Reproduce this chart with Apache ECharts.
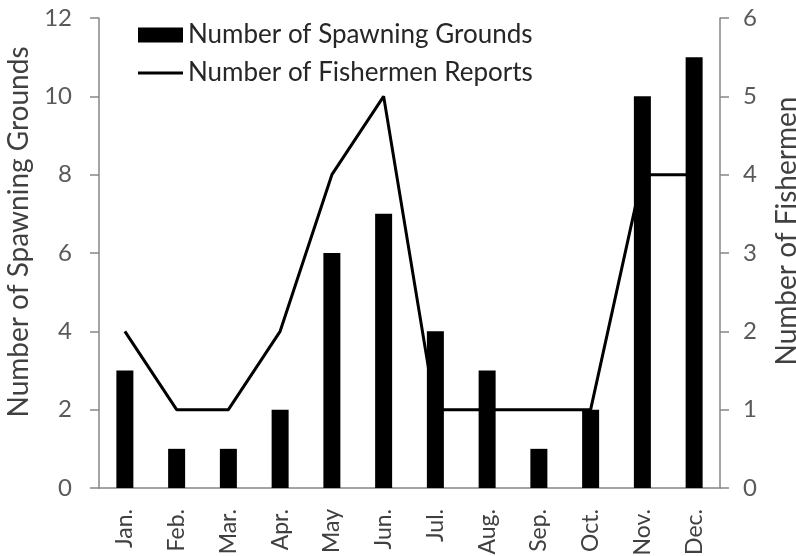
<!DOCTYPE html>
<html>
<head>
<meta charset="utf-8">
<script src="https://cdn.jsdelivr.net/npm/echarts@6/dist/echarts.min.js"></script>
<style>
html,body{margin:0;padding:0;background:#fff;}
#c{width:796px;height:556px;}
</style>
</head>
<body>
<div id="c"></div>
<script>
const months = ['Jan.', 'Feb.', 'Mar.', 'Apr.', 'May', 'Jun.', 'Jul.', 'Aug.', 'Sep.', 'Oct.', 'Nov.', 'Dec.'];
const spawningGrounds = [3, 1, 1, 2, 6, 7, 4, 3, 1, 2, 10, 11];
const fishermenReports = [2, 1, 1, 2, 4, 5, 1, 1, 1, 1, 4, 4];
const leftTicks = { min: 0, max: 12, interval: 2 };
const rightTicks = { min: 0, max: 6, interval: 1 };
const barName = 'Number of Spawning Grounds';
const lineName = 'Number of Fishermen Reports';

const FONT = 'Lato';
const axisColor = '#868686';
const legendText = { fontFamily: FONT, fontSize: 26, color: '#262626', lineHeight: 30 };
const chart = echarts.init(document.getElementById('c'), null, { renderer: 'canvas' });
chart.setOption({
  animation: false,
  backgroundColor: '#ffffff',
  textStyle: { fontFamily: FONT },
  legend: [
    {
      left: 138,
      top: 20,
      padding: 0,
      itemWidth: 45,
      itemHeight: 15,
      textStyle: legendText,
      data: [{ name: barName, icon: 'rect' }]
    },
    {
      left: 138,
      top: 58,
      padding: 0,
      itemWidth: 45,
      itemHeight: 3,
      textStyle: legendText,
      data: [{ name: lineName, icon: 'rect' }]
    }
  ],
  grid: { left: 99, right: 76, top: 18, bottom: 68, outerBoundsMode: 'none', containLabel: false },
  xAxis: {
    type: 'category',
    data: months,
    axisLine: { lineStyle: { color: axisColor, width: 1.5 } },
    axisTick: { show: false },
    axisLabel: { interval: 0, rotate: 90, margin: 21, fontFamily: FONT, fontSize: 23, color: '#404040' }
  },
  yAxis: [
    {
      type: 'value',
      min: leftTicks.min, max: leftTicks.max, interval: leftTicks.interval,
      name: 'Number of Spawning Grounds',
      nameLocation: 'middle',
      nameRotate: 90,
      nameGap: 62,
      nameTextStyle: { fontFamily: FONT, fontSize: 28, color: '#404040', padding: [0, 0, 0, 42] },
      axisLine: { show: true, lineStyle: { color: axisColor, width: 1.5 } },
      axisTick: { show: true, length: 9, lineStyle: { color: axisColor, width: 1.5 } },
      axisLabel: { margin: 27, fontFamily: FONT, fontSize: 24, color: '#595959' },
      splitLine: { show: false }
    },
    {
      type: 'value',
      position: 'right',
      min: rightTicks.min, max: rightTicks.max, interval: rightTicks.interval,
      name: 'Number of Fishermen',
      nameLocation: 'middle',
      nameRotate: 90,
      nameGap: 53,
      nameTextStyle: { fontFamily: FONT, fontSize: 28, color: '#404040', padding: [0, 0, 0, 44] },
      axisLine: { show: true, lineStyle: { color: axisColor, width: 1.5 } },
      axisTick: { show: true, length: 9, lineStyle: { color: axisColor, width: 1.5 } },
      axisLabel: { margin: 23, fontFamily: FONT, fontSize: 24, color: '#595959' },
      splitLine: { show: false }
    }
  ],
  series: [
    {
      name: barName,
      type: 'bar',
      yAxisIndex: 0,
      data: spawningGrounds,
      barWidth: 17,
      z: 3,
      itemStyle: { color: '#000000' }
    },
    {
      name: lineName,
      type: 'line',
      yAxisIndex: 1,
      data: fishermenReports,
      symbol: 'none',
      z: 2,
      lineStyle: { color: '#000000', width: 3 },
      itemStyle: { color: '#000000' }
    }
  ]
});
</script>
</body>
</html>
